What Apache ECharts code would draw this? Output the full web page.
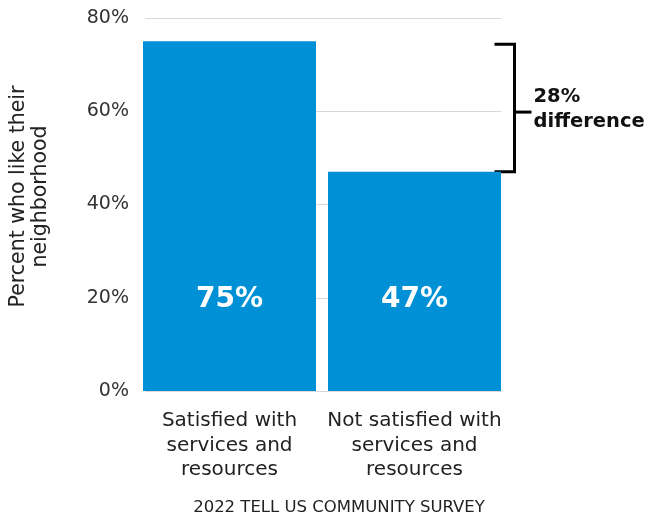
<!DOCTYPE html>
<html><head><meta charset="utf-8">
<script src="https://cdn.jsdelivr.net/npm/echarts@6/dist/echarts.min.js"></script>
<style>html,body{margin:0;padding:0;background:#fff}#c{width:649px;height:516px}</style>
</head><body><div id="c"></div>
<script>
const categories = ['Satisfied with\nservices and\nresources', 'Not satisfied with\nservices and\nresources'];
const values = [75, 47];
const yTicks = [0, 20, 40, 60, 80];
const yAxisTitle = 'Percent who like their\nneighborhood';
const footer = '2022 TELL US COMMUNITY SURVEY';
const diffLabel = 'difference';

const FONT = 'DejaVu Sans';
const chart = echarts.init(document.getElementById('c'));
const diff = values[0] - values[1];
chart.setOption({
  animation: false,
  textStyle: { fontFamily: FONT },
  title: { text: footer, left: 334, textAlign: 'center', top: 494,
    textStyle: { fontFamily: FONT, fontSize: 16.5, fontWeight: 'normal', color: '#222' } },
  grid: [
    { left: 143, right: 148, top: 18, bottom: 125 },
    { left: 137, right: 142, top: 18, bottom: 125 }
  ],
  xAxis: [
    { gridIndex: 0, type: 'category', data: categories, show: false },
    { gridIndex: 1, type: 'category', data: categories,
      axisLine: { show: false }, axisTick: { show: false },
      axisLabel: { fontFamily: FONT, fontSize: 20, color: '#222', lineHeight: 24.5, margin: 18, interval: 0 } }
  ],
  yAxis: [
    { gridIndex: 0, type: 'value', min: yTicks[0], max: yTicks[yTicks.length-1], interval: 20,
      axisLine: { show: false }, axisTick: { show: false },
      axisLabel: { formatter: v => v + '%', fontFamily: FONT, fontSize: 19, color: '#333', margin: 16 },
      splitLine: { lineStyle: { color: '#d9d9d9', width: 1 } },
      name: yAxisTitle, nameLocation: 'middle', nameRotate: 90, nameGap: 93,
      nameTextStyle: { fontFamily: FONT, fontSize: 20.5, color: '#222', lineHeight: 22, padding: [0, 0, 0, 16] } },
    { gridIndex: 1, type: 'value', min: yTicks[0], max: yTicks[yTicks.length-1], interval: 20, show: false }
  ],
  series: [
    { type: 'bar', xAxisIndex: 1, yAxisIndex: 1, data: values, barWidth: 173,
      itemStyle: { color: '#0090D5' },
      label: { show: true, position: 'insideBottom', distance: 77, formatter: p => p.value + '%',
        fontFamily: FONT, fontSize: 28, fontWeight: 'bold', color: '#fff' } },
    { type: 'custom', xAxisIndex: 1, yAxisIndex: 1, clip: false, silent: true,
      data: [[1, values[0], values[1]]],
      renderItem: function (params, api) {
        const c = api.coord([api.value(0), api.value(1)]);
        const b = api.coord([api.value(0), api.value(2)]);
        const xr = c[0] + 86;
        const top = c[1] + 3, bot = b[1];
        const xv = xr + 14;
        const mid = (top + bot) / 2;
        const ls = { stroke: '#000', lineWidth: 3, fill: null };
        return { type: 'group', children: [
          { type: 'polyline', shape: { points: [[xr - 6, top], [xv, top], [xv, bot], [xr - 6, bot]] }, style: ls },
          { type: 'line', shape: { x1: xv, y1: mid + 4, x2: xv + 17, y2: mid + 4 }, style: ls },
          { type: 'text', x: xv + 19, y: mid + 1, style: { text: diff + '%\n' + diffLabel,
            font: 'bold 19.5px "' + FONT + '"', fill: '#111', lineHeight: 25, verticalAlign: 'middle', align: 'left' } }
        ]};
      } }
  ]
});
</script></body></html>
